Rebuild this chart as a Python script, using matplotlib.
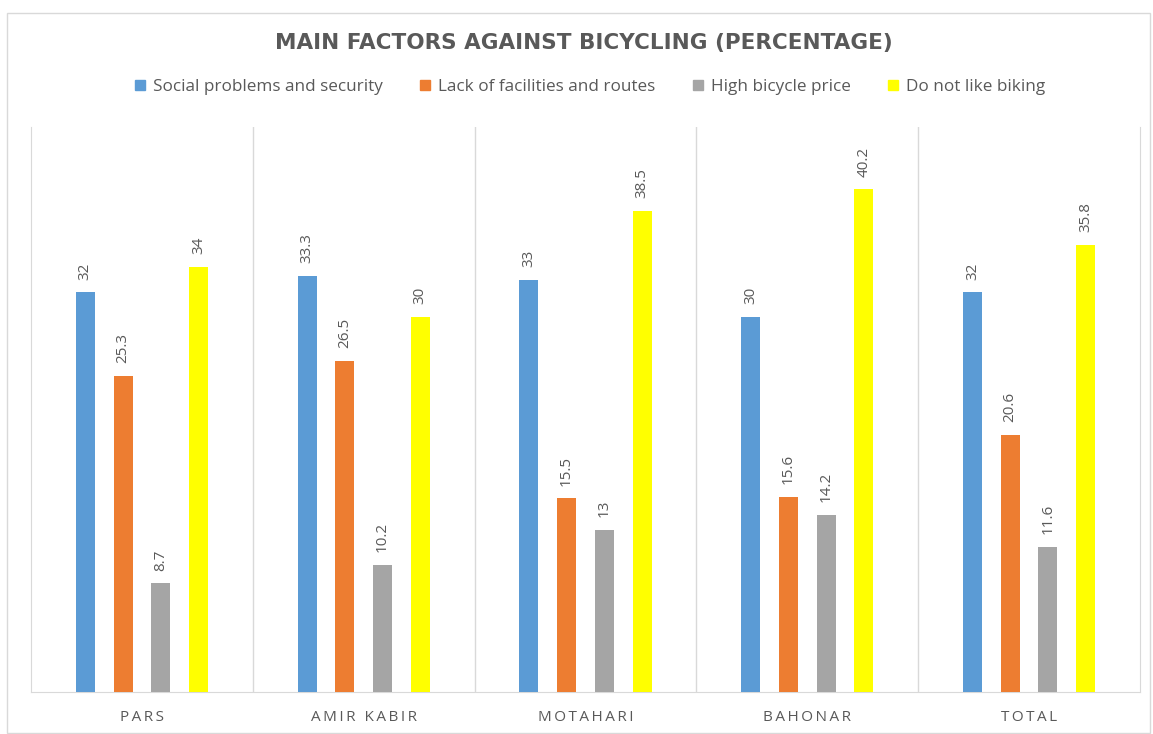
import matplotlib.pyplot as plt
import numpy as np
from matplotlib.patches import Rectangle

# Survey results per location.
locations = ["PARS", "AMIR KABIR", "MOTAHARI", "BAHONAR", "TOTAL"]
social_security = [32, 33.3, 33, 30, 32]
lack_facilities = [25.3, 26.5, 15.5, 15.6, 20.6]
bicycle_price = [8.7, 10.2, 13, 14.2, 11.6]
not_like_biking = [34, 30, 38.5, 40.2, 35.8]

series_names = ["Social problems and security", "Lack of facilities and routes",
                "High bicycle price", "Do not like biking"]
series_colors = ["#5B9BD5", "#ED7D31", "#A5A5A5", "#FFFF00"]
label_color = "#595959"

fig = plt.figure(figsize=(11.53, 7.34), dpi=100)
ax = fig.add_axes([31 / 1153, 42 / 734, 1109 / 1153, 565 / 734])

# Thin border round the whole chart.
fig.patches.append(Rectangle((7 / 1153, 0.002), 1143 / 1153, 1 - 13 / 734 - 0.002,
                             transform=fig.transFigure, fill=False,
                             edgecolor="#d9d9d9", linewidth=1))

x = np.arange(len(locations))
spacing = 0.17
width = 0.086
all_series = [social_security, lack_facilities, bicycle_price, not_like_biking]

for i, (values, color) in enumerate(zip(all_series, series_colors)):
    pos = x + (i - 1.5) * spacing
    ax.bar(pos, values, width=width, color=color, zorder=3)
    for px, v in zip(pos, values):
        ax.annotate(f"{v:g}", (px, v), xytext=(0, 9), textcoords="offset points",
                    rotation=90, ha="center", va="bottom", fontsize=11,
                    color=label_color, family="Open Sans")

ax.set_xlim(-0.5, len(locations) - 0.5)
ax.set_ylim(0, 45.2)
ax.set_yticks([])
ax.set_xticks(x)
ax.set_xticklabels(["\u2009".join(name) for name in locations], fontsize=11,
                   color=label_color, family="Open Sans")
ax.tick_params(axis="x", length=0, pad=13)

# Separator lines between the locations.
for b in np.arange(0.5, len(locations) - 0.5, 1):
    ax.axvline(b, color="#d9d9d9", linewidth=1, zorder=1)
for side in ["left", "right", "bottom"]:
    ax.spines[side].set_color("#d9d9d9")
ax.spines["top"].set_visible(False)

fig.text(0.506, 1 - 43 / 734, "MAIN FACTORS AGAINST BICYCLING (PERCENTAGE)",
         ha="center", va="center", fontsize=15.5, fontweight="bold",
         color=label_color, family="DejaVu Sans")

handles = [Rectangle((0, 0), 1, 1, color=c) for c in series_colors]
fig.legend(handles, series_names, loc="center", bbox_to_anchor=(590 / 1153, 1 - 87 / 734),
           ncol=4, frameon=False, handlelength=0.6, handleheight=0.6,
           handletextpad=0.45, columnspacing=2.2, labelcolor=label_color,
           prop={"family": "Open Sans", "size": 12.3})

fig.savefig("out.png", dpi=100)
